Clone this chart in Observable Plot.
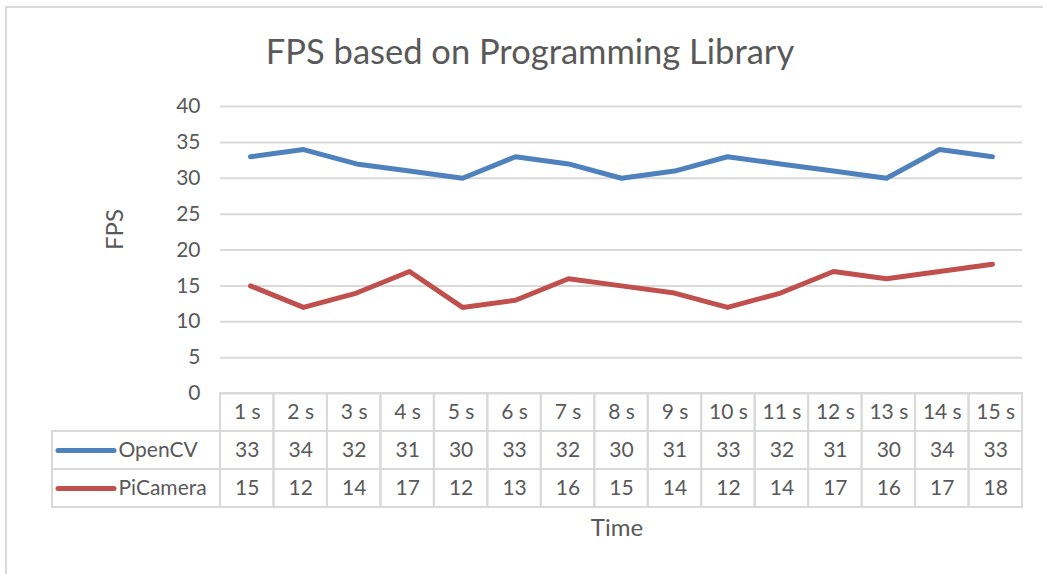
<!DOCTYPE html>
<html>
<head>
<meta charset="utf-8">
<script src="https://cdn.jsdelivr.net/npm/d3@7"></script>
<script src="https://cdn.jsdelivr.net/npm/@observablehq/plot@0.6"></script>
<style>
  html, body { margin: 0; padding: 0; background: #fff; }
  #chart { position: relative; width: 1043px; height: 574px; overflow: hidden; font-family: Lato, sans-serif; color: #595959; }
  #frame { position: absolute; left: 5px; top: 6px; width: 1100px; height: 700px; border-top: 2px solid #d9d9d9; border-left: 2px solid #d9d9d9; }
  #title { position: absolute; top: 30px; left: 0; width: 1060px; text-align: center; font-size: 34.5px; }
  #xlabel { position: absolute; top: 512px; left: 516px; width: 202px; text-align: center; font-size: 24px; }
  #main, #table { position: absolute; left: 0; }
  #main { top: 0; }
  #table { top: 390px; }
  svg { overflow: visible; }
</style>
</head>
<body>
<div id="chart">
  <div id="frame"></div>
  <div id="title">FPS based on Programming Library</div>
  <div id="main"></div>
  <div id="table"></div>
  <div id="xlabel">Time</div>
</div>
<script>
const times = ["1 s","2 s","3 s","4 s","5 s","6 s","7 s","8 s","9 s","10 s","11 s","12 s","13 s","14 s","15 s"];
const seriesNames = ["OpenCV", "PiCamera"];
const openCV = [33,34,32,31,30,33,32,30,31,33,32,31,30,34,33];
const piCamera = [15,12,14,17,12,13,16,15,14,12,14,17,16,17,18];
const colors = ["#4F81BD", "#C0504D"];
const yTicks = [0,5,10,15,20,25,30,35,40];

const W = 1043, ML = 220, MR = 21;
const textColor = "#595959", gridColor = "#d9d9d9";

const values = [openCV, piCamera];
const rows = [];
seriesNames.forEach((s, si) => times.forEach((t, i) => rows.push({series: s, time: t, i, value: values[si][i]})));

const main = Plot.plot({
  width: W, height: 400,
  marginLeft: ML, marginRight: MR, marginTop: 106, marginBottom: 7,
  style: {fontFamily: "Lato, sans-serif", fontSize: "21px", color: textColor, background: "transparent"},
  x: {type: "point", domain: times, padding: 0.5, axis: null},
  y: {domain: [0, 40]},
  color: {domain: seriesNames, range: colors},
  marks: [
    Plot.gridY(yTicks, {stroke: gridColor, strokeOpacity: 1, strokeWidth: 2}),
    Plot.axisY(yTicks, {tickSize: 0, tickPadding: 20, label: null, fill: textColor, fontSize: 21}),
    Plot.text(["FPS"], {frameAnchor: "left", dx: -105, dy: 0, rotate: -90, fontSize: 24, fill: textColor}),
    Plot.line(rows, {x: "time", y: "value", z: "series", stroke: "series", strokeWidth: 5, strokeLinejoin: "round", strokeLinecap: "round", curve: "linear"})
  ]
});
document.getElementById("main").appendChild(main);

// Data table below the chart
const n = times.length;
const step = (W - ML - MR) / n;
const legendLeft = -(ML - 52) / step;          // left edge of legend column in column units
const rowKeys = ["header", ...seriesNames];
const headerCells = times.map((t, i) => ({row: "header", x1: i, x2: i + 1, label: t}));
const valueCells = rows.map(d => ({row: d.series, x1: d.i, x2: d.i + 1, label: String(d.value)}));
const legendCells = seriesNames.map((s, si) => ({row: s, x1: legendLeft, x2: 0, label: s, color: colors[si]}));
const allCells = [...headerCells, ...valueCells, ...legendCells];

const table = Plot.plot({
  width: W, height: 120,
  marginLeft: ML, marginRight: MR, marginTop: 3, marginBottom: 3,
  style: {fontFamily: "Lato, sans-serif", fontSize: "21px", color: textColor, background: "transparent"},
  x: {domain: [0, n], axis: null},
  y: {type: "band", domain: rowKeys, padding: 0, axis: null},
  marks: [
    Plot.barX(allCells, {x1: "x1", x2: "x2", y: "row", fill: "none", stroke: gridColor, strokeWidth: 2, inset: 0}),
    Plot.text([...headerCells, ...valueCells], {x: d => (d.x1 + d.x2) / 2, y: "row", text: "label", fill: textColor, fontSize: 21}),
    Plot.ruleY(legendCells, {y: "row", x1: d => d.x1 + 6 / step, x2: d => d.x1 + 62 / step, stroke: "color", strokeWidth: 5, strokeLinecap: "round"}),
    Plot.text(legendCells, {x: d => d.x1 + 66 / step, y: "row", text: "label", textAnchor: "start", fill: textColor, fontSize: 21})
  ]
});
document.getElementById("table").appendChild(table);
</script>
</body>
</html>
